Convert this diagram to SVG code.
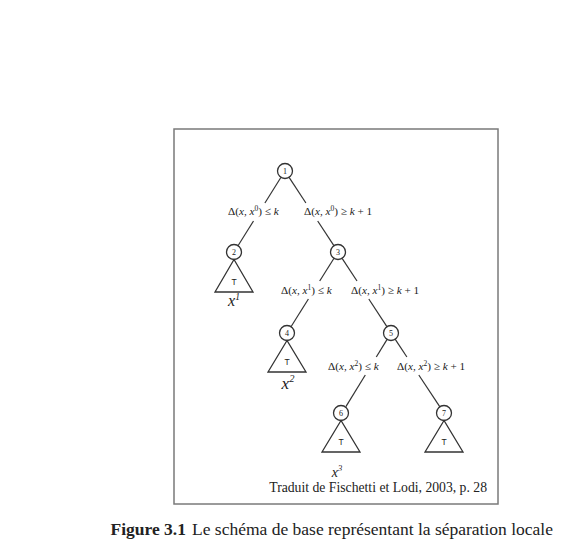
<svg xmlns="http://www.w3.org/2000/svg" width="578" height="549" viewBox="0 0 578 549">
<style>
.frame{fill:none;stroke:#7a7a7a;stroke-width:1.5}
.edge{stroke:#333;stroke-width:1.2;fill:none}
.nd{fill:#fff;stroke:#333;stroke-width:1.3}
.tri{fill:#fff;stroke:#333;stroke-width:1.3;stroke-linejoin:miter}
.num{font-family:"Liberation Serif",serif;font-size:8px;fill:#222;text-anchor:middle}
.T{font-family:"Liberation Sans",sans-serif;font-size:8.5px;fill:#222;text-anchor:middle}
.lab{font-family:"Liberation Serif",serif;font-size:11.2px;fill:#1a1a1a}
.i{font-style:italic}
.sup{font-size:7.5px}
.xl{font-family:"Liberation Serif",serif;font-style:italic;fill:#1a1a1a;text-anchor:middle}
.src{font-family:"Liberation Serif",serif;font-size:13.7px;fill:#222;text-anchor:end}
.cap{font-family:"Liberation Serif",serif;font-size:17.5px;fill:#222}
</style>
<rect width="578" height="549" fill="#fff"/>
<rect class="frame" x="174" y="129" width="324" height="375"/>
<g id="connectors">
<line class="edge" x1="281" y1="177.3" x2="264.9" y2="203"/>
<line class="edge" x1="253.5" y1="221" x2="238" y2="245.7"/>
<line class="edge" x1="289.1" y1="177.3" x2="305.9" y2="203"/>
<line class="edge" x1="317.7" y1="221" x2="333.9" y2="245.7"/>
<line class="edge" x1="334" y1="258.3" x2="319.7" y2="281"/>
<line class="edge" x1="308.4" y1="299" x2="291" y2="326.7"/>
<line class="edge" x1="342.1" y1="258.3" x2="357" y2="281"/>
<line class="edge" x1="368.8" y1="299" x2="386.9" y2="326.7"/>
<line class="edge" x1="387.1" y1="339.4" x2="376.3" y2="357"/>
<line class="edge" x1="365.3" y1="375" x2="345.9" y2="406.6"/>
<line class="edge" x1="395.1" y1="339.2" x2="406.9" y2="357"/>
<line class="edge" x1="418.8" y1="375" x2="439.9" y2="406.8"/>
</g>
<g id="labels">
<text class="lab" x="228" y="215">Δ(<tspan class="i">x</tspan>, <tspan class="i">x</tspan><tspan class="sup" dy="-4">0</tspan><tspan dy="4">) ≤ </tspan><tspan class="i">k</tspan></text>
<text class="lab" x="304" y="215">Δ(<tspan class="i">x</tspan>, <tspan class="i">x</tspan><tspan class="sup" dy="-4">0</tspan><tspan dy="4">) ≥ </tspan><tspan class="i">k</tspan> + 1</text>
<text class="lab" x="281" y="294">Δ(<tspan class="i">x</tspan>, <tspan class="i">x</tspan><tspan class="sup" dy="-4">1</tspan><tspan dy="4">) ≤ </tspan><tspan class="i">k</tspan></text>
<text class="lab" x="351" y="294">Δ(<tspan class="i">x</tspan>, <tspan class="i">x</tspan><tspan class="sup" dy="-4">1</tspan><tspan dy="4">) ≥ </tspan><tspan class="i">k</tspan> + 1</text>
<text class="lab" x="328" y="370">Δ(<tspan class="i">x</tspan>, <tspan class="i">x</tspan><tspan class="sup" dy="-4">2</tspan><tspan dy="4">) ≤ </tspan><tspan class="i">k</tspan></text>
<text class="lab" x="397" y="370">Δ(<tspan class="i">x</tspan>, <tspan class="i">x</tspan><tspan class="sup" dy="-4">2</tspan><tspan dy="4">) ≥ </tspan><tspan class="i">k</tspan> + 1</text>
</g>
<g id="node1"><circle class="nd" cx="285" cy="171" r="7.5"/><text class="num" x="285" y="174">1</text></g>
<g id="node2"><circle class="nd" cx="234" cy="252" r="7.5"/><text class="num" x="234" y="255">2</text>
<polygon class="tri" points="234,259.5 215,292 253,292"/><text class="T" x="234" y="285">T</text>
<text class="xl" x="234" y="306" font-size="16">x<tspan font-size="9.5" dy="-6">1</tspan></text></g>
<g id="node3"><circle class="nd" cx="338" cy="252" r="7.5"/><text class="num" x="338" y="255">3</text></g>
<g id="node4"><circle class="nd" cx="287" cy="333" r="7.5"/><text class="num" x="287" y="336">4</text>
<polygon class="tri" points="287,340.5 268,372 306,372"/><text class="T" x="287" y="365">T</text>
<text class="xl" x="288" y="389" font-size="17">x<tspan font-size="10.5" dy="-7">2</tspan></text></g>
<g id="node5"><circle class="nd" cx="391" cy="333" r="7.5"/><text class="num" x="391" y="336">5</text></g>
<g id="node6"><circle class="nd" cx="341" cy="413" r="7.5"/><text class="num" x="341" y="416">6</text>
<polygon class="tri" points="341,420.5 322,452 360,452"/><text class="T" x="341" y="445">T</text>
<text class="xl" x="337" y="477" font-size="14">x<tspan font-size="8.5" dy="-6">3</tspan></text></g>
<g id="node7"><circle class="nd" cx="444" cy="413" r="7.5"/><text class="num" x="444" y="416">7</text>
<polygon class="tri" points="444,420.5 425,452 463,452"/><text class="T" x="444" y="445">T</text></g>
<text class="src" x="487" y="492">Traduit de Fischetti et Lodi, 2003, p. 28</text>
<text class="cap" x="186" y="535" text-anchor="end" font-weight="bold">Figure 3.1</text>
<text class="cap" x="192" y="535">Le schéma de base représentant la séparation locale</text>
</svg>
